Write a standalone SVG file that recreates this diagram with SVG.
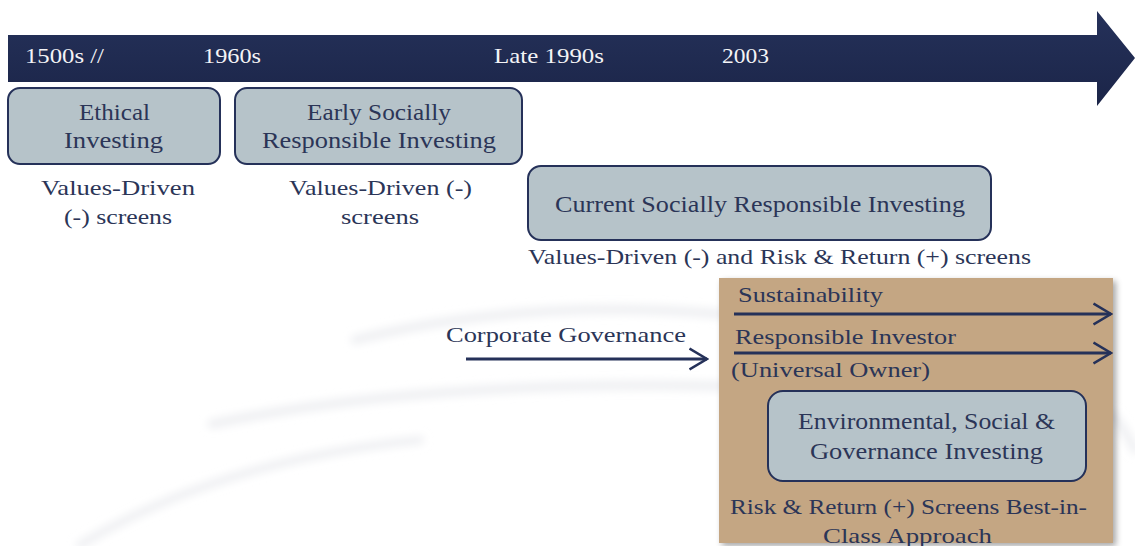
<svg xmlns="http://www.w3.org/2000/svg" width="1135" height="546" viewBox="0 0 1135 546">
  <defs>
    <style>
      .t { font-family: "Liberation Serif", "Times New Roman", serif; fill: #2b3557; }
      .band-t { font-family: "Liberation Serif", "Times New Roman", serif; fill: #f4f4f6; font-size: 22px; }
      .box { fill: #b6c3c9; stroke: #253159; stroke-width: 2; }
      .conn { stroke: #253159; stroke-width: 3; fill: none; marker-end: url(#openHead); }
      .swoosh { fill: none; stroke: #eeeff2; stroke-linecap: round; filter: url(#soft); }
    </style>
    <linearGradient id="bandGrad" x1="0" y1="0" x2="0" y2="1">
      <stop offset="0" stop-color="#25315a"/>
      <stop offset="1" stop-color="#1b2548"/>
    </linearGradient>
    <marker id="openHead" viewBox="0 0 20 24" refX="18.5" refY="12" markerWidth="20" markerHeight="24" markerUnits="userSpaceOnUse" orient="auto">
      <path d="M1,1.5 L18.5,12 L1,22.5" fill="none" stroke="#253159" stroke-width="2.6"/>
    </marker>
    <filter id="soft" x="-20%" y="-200%" width="140%" height="500%">
      <feGaussianBlur stdDeviation="4"/>
    </filter>
    <filter id="shadow" x="-5%" y="-5%" width="115%" height="115%">
      <feGaussianBlur in="SourceAlpha" stdDeviation="3"/>
      <feOffset dx="3" dy="3"/>
      <feComponentTransfer><feFuncA type="linear" slope="0.35"/></feComponentTransfer>
      <feMerge><feMergeNode/><feMergeNode in="SourceGraphic"/></feMerge>
    </filter>
  </defs>

  <rect width="1135" height="546" fill="#ffffff"/>

  <!-- faint background swooshes -->
  <g id="background">
    <path class="swoosh" d="M355,340 Q520,298 720,314" stroke-width="9"/>
    <path class="swoosh" d="M212,424 Q420,380 720,386" stroke-width="9"/>
    <path class="swoosh" d="M80,545 Q220,460 420,440" stroke-width="8"/>
    <path class="swoosh" d="M1113,415 Q1125,430 1135,450" stroke-width="8"/>
  </g>

  <!-- timeline band -->
  <g id="timeline">
    <path d="M8,35 L1097,35 L1097,11 L1135,58 L1097,106 L1097,82 L8,82 Z" fill="url(#bandGrad)"/>
    <text class="band-t" x="25" y="63" textLength="79" lengthAdjust="spacingAndGlyphs">1500s //</text>
    <text class="band-t" x="203" y="63" textLength="58" lengthAdjust="spacingAndGlyphs">1960s</text>
    <text class="band-t" x="494" y="63" textLength="110" lengthAdjust="spacingAndGlyphs">Late 1990s</text>
    <text class="band-t" x="722" y="63" textLength="47" lengthAdjust="spacingAndGlyphs">2003</text>
  </g>

  <g id="ethical-investing">
    <rect class="box" x="8" y="88" width="212" height="76" rx="12"/>
    <text class="t" font-size="23.5" x="79" y="120" textLength="71" lengthAdjust="spacingAndGlyphs">Ethical</text>
    <text class="t" font-size="23.5" x="64" y="148" textLength="99" lengthAdjust="spacingAndGlyphs">Investing</text>
    <text class="t" font-size="22" x="41" y="195" textLength="154" lengthAdjust="spacingAndGlyphs">Values-Driven</text>
    <text class="t" font-size="22" x="64" y="224" textLength="108" lengthAdjust="spacingAndGlyphs">(-) screens</text>
  </g>

  <g id="early-sri">
    <rect class="box" x="235" y="88" width="287" height="76" rx="12"/>
    <text class="t" font-size="23.5" x="307" y="120" textLength="144" lengthAdjust="spacingAndGlyphs">Early Socially</text>
    <text class="t" font-size="23.5" x="262" y="148" textLength="234" lengthAdjust="spacingAndGlyphs">Responsible Investing</text>
    <text class="t" font-size="22" x="289" y="195" textLength="183" lengthAdjust="spacingAndGlyphs">Values-Driven (-)</text>
    <text class="t" font-size="22" x="341" y="224" textLength="78" lengthAdjust="spacingAndGlyphs">screens</text>
  </g>

  <g id="current-sri">
    <rect class="box" x="528" y="166" width="463" height="74" rx="13"/>
    <text class="t" font-size="23.5" x="555" y="212" textLength="410" lengthAdjust="spacingAndGlyphs">Current Socially Responsible Investing</text>
    <text class="t" font-size="22" x="528" y="264" textLength="503" lengthAdjust="spacingAndGlyphs">Values-Driven (-) and Risk &amp; Return (+) screens</text>
  </g>

  <g id="esg-panel">
    <rect x="719" y="278" width="394" height="265" fill="#c4a683" filter="url(#shadow)"/>
    <text class="t" font-size="22" x="738" y="302" textLength="145" lengthAdjust="spacingAndGlyphs">Sustainability</text>
    <text class="t" font-size="22" x="735" y="344" textLength="221" lengthAdjust="spacingAndGlyphs">Responsible Investor</text>
    <text class="t" font-size="22" x="731" y="377" textLength="199" lengthAdjust="spacingAndGlyphs">(Universal Owner)</text>
    <text class="t" font-size="22" x="730" y="514" textLength="357" lengthAdjust="spacingAndGlyphs">Risk &amp; Return (+) Screens Best-in-</text>
    <text class="t" font-size="22" x="823" y="543" textLength="169" lengthAdjust="spacingAndGlyphs">Class Approach</text>
  </g>

  <g id="esg-investing">
    <rect class="box" x="768" y="391" width="318" height="90" rx="15"/>
    <text class="t" font-size="23.5" x="798" y="429" textLength="257" lengthAdjust="spacingAndGlyphs">Environmental, Social &amp;</text>
    <text class="t" font-size="23.5" x="810" y="459" textLength="233" lengthAdjust="spacingAndGlyphs">Governance Investing</text>
  </g>

  <g id="corporate-governance">
    <text class="t" font-size="22" x="446" y="342" textLength="240" lengthAdjust="spacingAndGlyphs">Corporate Governance</text>
  </g>

  <!-- connectors -->
  <g id="connectors">
    <line class="conn" x1="734" y1="314" x2="1111" y2="314"/>
    <line class="conn" x1="734" y1="353" x2="1111" y2="353"/>
    <line class="conn" x1="466" y1="359" x2="707" y2="359"/>
  </g>
</svg>
